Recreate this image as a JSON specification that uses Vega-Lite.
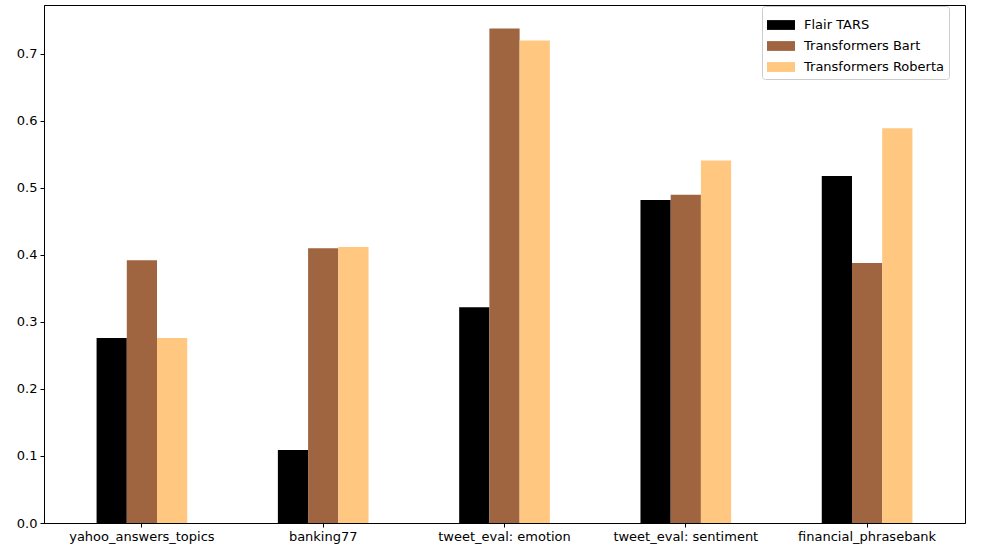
{
  "$schema": "https://vega.github.io/schema/vega-lite/v6.json",
  "autosize": {"type": "none"},
  "padding": {"left": 44, "top": 5, "right": 31, "bottom": 29},
  "width": 921,
  "height": 518,
  "background": "white",
  "config": {
    "font": "DejaVu Sans",
    "view": {"stroke": "#000000", "strokeWidth": 1}
  },
  "data": {
    "values": [
      {"dataset": "yahoo_answers_topics", "model": "Flair TARS", "score": 0.276},
      {"dataset": "yahoo_answers_topics", "model": "Transformers Bart", "score": 0.392},
      {"dataset": "yahoo_answers_topics", "model": "Transformers Roberta", "score": 0.276},
      {"dataset": "banking77", "model": "Flair TARS", "score": 0.109},
      {"dataset": "banking77", "model": "Transformers Bart", "score": 0.410},
      {"dataset": "banking77", "model": "Transformers Roberta", "score": 0.412},
      {"dataset": "tweet_eval: emotion", "model": "Flair TARS", "score": 0.322},
      {"dataset": "tweet_eval: emotion", "model": "Transformers Bart", "score": 0.738},
      {"dataset": "tweet_eval: emotion", "model": "Transformers Roberta", "score": 0.720},
      {"dataset": "tweet_eval: sentiment", "model": "Flair TARS", "score": 0.482},
      {"dataset": "tweet_eval: sentiment", "model": "Transformers Bart", "score": 0.490},
      {"dataset": "tweet_eval: sentiment", "model": "Transformers Roberta", "score": 0.541},
      {"dataset": "financial_phrasebank", "model": "Flair TARS", "score": 0.518},
      {"dataset": "financial_phrasebank", "model": "Transformers Bart", "score": 0.388},
      {"dataset": "financial_phrasebank", "model": "Transformers Roberta", "score": 0.589}
    ]
  },
  "mark": {"type": "bar"},
  "encoding": {
    "x": {
      "field": "dataset",
      "type": "nominal",
      "sort": ["yahoo_answers_topics", "banking77", "tweet_eval: emotion", "tweet_eval: sentiment", "financial_phrasebank"],
      "scale": {"paddingInner": 0.5, "paddingOuter": 0.29},
      "axis": {
        "title": null,
        "labelAngle": 0,
        "labelFontSize": 13,
        "labelColor": "#000000",
        "tickColor": "#000000",
        "tickSize": 4,
        "domainColor": "#000000",
        "labelPadding": 3
      }
    },
    "xOffset": {
      "field": "model",
      "type": "nominal",
      "scale": {"paddingInner": 0, "paddingOuter": 0}
    },
    "y": {
      "field": "score",
      "type": "quantitative",
      "scale": {"domain": [0, 0.773], "nice": false},
      "axis": {
        "title": null,
        "values": [0, 0.1, 0.2, 0.3, 0.4, 0.5, 0.6, 0.7],
        "format": ".1f",
        "grid": false,
        "labelFontSize": 13,
        "labelColor": "#000000",
        "tickColor": "#000000",
        "tickSize": 4,
        "domainColor": "#000000",
        "labelPadding": 3
      }
    },
    "color": {
      "field": "model",
      "type": "nominal",
      "scale": {
        "domain": ["Flair TARS", "Transformers Bart", "Transformers Roberta"],
        "range": ["#000000", "#9f6540", "#ffc77f"]
      },
      "legend": {
        "title": null,
        "orient": "none",
        "legendX": 718,
        "legendY": 1,
        "fillColor": "#ffffff",
        "strokeColor": "#cccccc",
        "cornerRadius": 3,
        "padding": 5,
        "labelFontSize": 13,
        "labelColor": "#000000",
        "symbolType": "M-1,-0.35H1V0.35H-1Z",
        "symbolSize": 784,
        "symbolStrokeWidth": 0,
        "symbolOpacity": 1,
        "rowPadding": 0,
        "labelOffset": 9
      }
    }
  }
}
